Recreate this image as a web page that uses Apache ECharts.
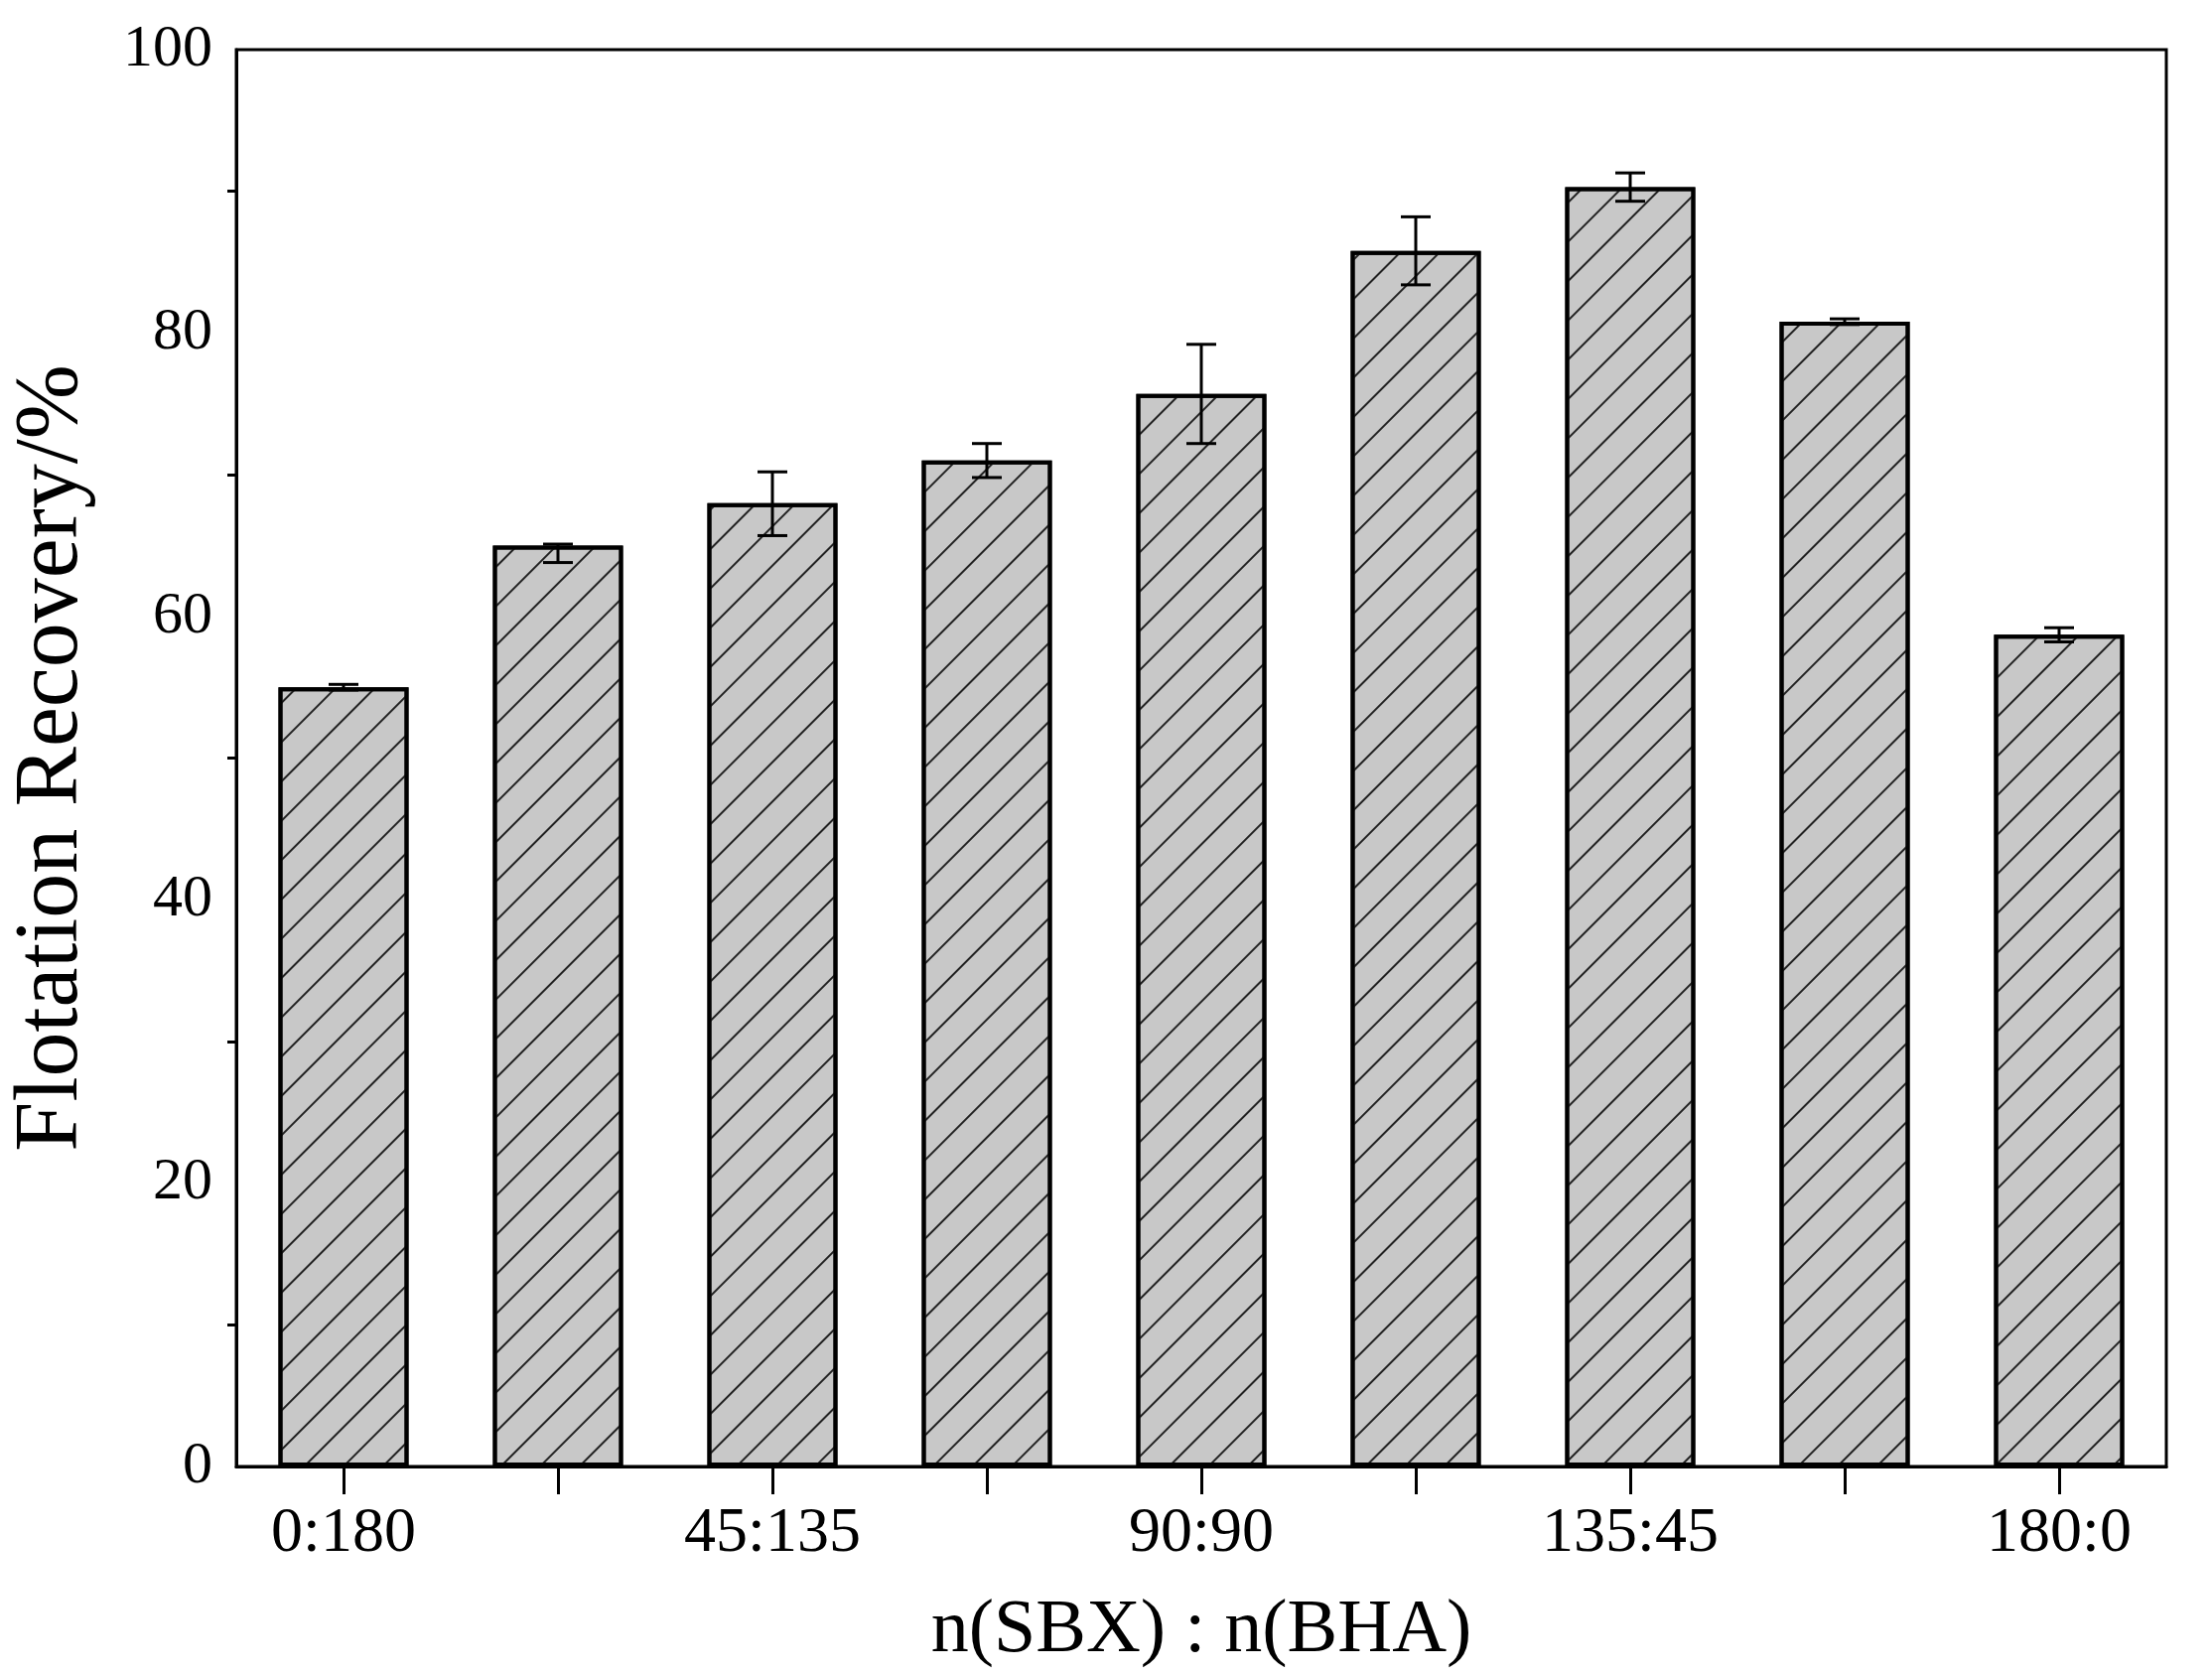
<!DOCTYPE html>
<html><head><meta charset="utf-8">
<script src="https://cdn.jsdelivr.net/npm/echarts@6/dist/echarts.min.js"></script>
<style>html,body{margin:0;padding:0;background:#fff}#c{width:2228px;height:1686px}</style>
</head><body><div id="c"></div>
<script>
const categories = ['0:180','36:144','45:135','60:120','90:90','120:60','135:45','144:36','180:0'];
const recovery = [55.0, 65.0, 68.0, 71.0, 75.7, 85.8, 90.3, 80.8, 58.7];
const errLow = [0.2, 1.2, 2.3, 1.2, 3.5, 2.4, 1.0, 0.2, 0.5];
const errHigh = [0.2, 0.1, 2.2, 1.2, 3.5, 2.4, 1.0, 0.2, 0.5];
const yTicks = [0, 20, 40, 60, 80, 100];
const halfSteps = Array.from({length: categories.length * 2 + 1}, (_, i) => String(i));

const font = '"Liberation Serif","Times New Roman",serif';
const chart = echarts.init(document.getElementById('c'));
chart.setOption({
  animation: false,
  backgroundColor: '#fff',
  grid: {left: 217, right: 46, top: 50, bottom: 199, show: true, borderColor: '#000', borderWidth: 3},
  xAxis: [{
    type: 'category', data: categories,
    name: 'n(SBX) : n(BHA)', nameLocation: 'middle', nameGap: 128,
    nameTextStyle: {fontFamily: font, fontSize: 76, color: '#000'},
    axisLine: {lineStyle: {color: '#000', width: 3}},
    axisTick: {length: 14, lineStyle: {width: 3, color: '#000'}},
    axisLabel: {fontFamily: font, fontSize: 64, color: '#000', margin: 36}
  }, {
    type: 'category', data: halfSteps, boundaryGap: false, position: 'bottom',
    axisLine: {show: false}, splitLine: {show: false},
    axisTick: {show: true, length: 28, interval: (i) => i % 2 === 1, lineStyle: {width: 3, color: '#000'}},
    axisLabel: {show: false}
  }],
  yAxis: {
    type: 'value', min: 0, max: 100, interval: 20,
    name: 'Flotation Recovery/%', nameLocation: 'middle', nameGap: 140,
    nameTextStyle: {fontFamily: font, fontSize: 90, color: '#000'},
    axisLine: {show: true, lineStyle: {color: '#000', width: 3}},
    axisTick: {length: 16, lineStyle: {width: 3, color: '#000'}},
    minorTick: {show: true, splitNumber: 2, length: 9, lineStyle: {width: 3, color: '#000'}},
    splitLine: {show: false},
    axisLabel: {fontFamily: font, fontSize: 60, color: '#000', margin: 24,
      formatter: v => yTicks.includes(v) ? String(v) : ''}
  },
  series: [{
    type: 'bar', data: recovery, barWidth: 131, xAxisIndex: 0,
    itemStyle: {color: '#c8c8c8', borderColor: '#000', borderWidth: 4,
      decal: {symbol: 'rect', symbolSize: 1, dashArrayX: [1, 0], dashArrayY: [2, 26],
        rotation: -Math.PI / 4, color: '#222'}}
  }, {
    type: 'custom', xAxisIndex: 0,
    data: recovery.map((v, i) => [i, v - errLow[i], v + errHigh[i]]),
    renderItem: (params, api) => {
      const lo = api.coord([api.value(0), api.value(1)]);
      const hi = api.coord([api.value(0), api.value(2)]);
      const w = 15, st = {stroke: '#000', lineWidth: 3};
      return {type: 'group', children: [
        {type: 'line', shape: {x1: lo[0], y1: lo[1], x2: hi[0], y2: hi[1]}, style: st},
        {type: 'line', shape: {x1: lo[0]-w, y1: lo[1], x2: lo[0]+w, y2: lo[1]}, style: st},
        {type: 'line', shape: {x1: hi[0]-w, y1: hi[1], x2: hi[0]+w, y2: hi[1]}, style: st}
      ]};
    },
    z: 10
  }]
});
</script></body></html>
